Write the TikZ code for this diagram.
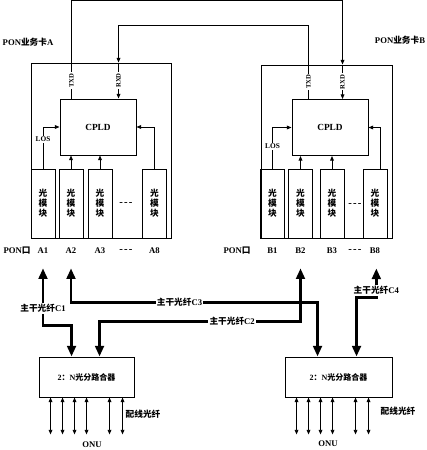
\documentclass[tikz,border=0pt]{standalone}
\usepackage{fontspec}
\setmainfont{Liberation Serif}
\newfontfamily\cjk{Noto Sans CJK SC}
\newcommand{\zh}[1]{{\cjk #1}}
\newcommand{\ddd}{{\fontsize{8}{8}\selectfont -\kern0.9pt-\kern0.9pt-}}
\usepackage{tikz}
\usetikzlibrary{arrows.meta, positioning, calc}
\tikzset{
  card/.style={rectangle, draw, line width=0.7pt},
  cpld/.style={
    rectangle, draw, line width=0.7pt,
    minimum width=57pt, minimum height=42pt,
    font=\fontsize{7}{8}\selectfont\bfseries
  },
  modl/.style={
    rectangle, draw, line width=0.7pt,
    minimum width=18pt, minimum height=51.75pt, align=center,
    font=\cjk\fontsize{6.5}{7.5}\selectfont\bfseries
  },
  splt/.style={
    rectangle, draw, line width=0.7pt, minimum height=30pt,
    font=\fontsize{6}{7}\selectfont\bfseries
  },
  lbl/.style={font=\fontsize{6.5}{7.5}\selectfont\bfseries},
  sigl/.style={rotate=90, fill=white, inner sep=0.8pt, font=\fontsize{5}{6}\selectfont\bfseries},
  losl/.style={fill=white, inner sep=0.8pt, font=\fontsize{5.5}{6}\selectfont\bfseries},
  fibl/.style={fill=white, inner sep=1pt, font=\fontsize{6.5}{7.5}\selectfont\bfseries},
  arr/.style={line width=0.7pt, -{Triangle[length=3.5pt,width=2.8pt]}},
  darr/.style={line width=0.7pt, {Triangle[length=3.5pt,width=2.8pt]}-{Triangle[length=3.5pt,width=2.8pt]}},
  fiber/.style={line width=2.2pt, {Triangle[length=8pt,width=6.5pt]}-{Triangle[length=8pt,width=6.5pt]}}
}
\begin{document}
\begin{tikzpicture}[x=0.75pt, y=-0.75pt, node distance=3.5pt]
  \useasboundingbox (0,0) rectangle (427,450);

  \node[card, minimum width=105pt, minimum height=131.25pt]  (cardA) at (101,150.5) {};
  \node[card, minimum width=98.25pt, minimum height=129.75pt] (cardB) at (326.5,151.5) {};
  \node[lbl] (nameA) at (28,42) {PON\zh{业务卡}A};
  \node[lbl] (nameB) at (400,40) {PON\zh{业务卡}B};

  \node[cpld] (cpldA) at (98,127)   {CPLD};
  \node[cpld] (cpldB) at (330,127.5) {CPLD};

  \foreach \n/\x in {1/43,2/71,3/100,8/154.5}
    \node[modl] (mA\n) at (\x,203.5) {光\\模\\块};
  \foreach \n/\x in {1/272.5,2/300.5,3/332,8/375}
    \node[modl] (mB\n) at (\x,203.5) {光\\模\\块};
  \node[lbl] (dotsA) at (126,204) {\ddd};
  \node[lbl] (dotsB) at (355,205) {\ddd};

  \foreach \n in {1,2,3,8} {
    \node[lbl, below=of mA\n] (lA\n) {A\n};
    \node[lbl, below=of mB\n] (lB\n) {B\n};
  }
  \node[lbl] (ponA) at (17,0 |- lA1) {PON\zh{口}};
  \node[lbl] (ponB) at (237,0 |- lB1) {PON\zh{口}};
  \node[lbl] (pdA) at (dotsA |- lA1) {\ddd};
  \node[lbl] (pdB) at (dotsB |- lB1) {\ddd};

  \node[splt, minimum width=71.25pt] (spA) at (86.5,377)  {2\zh{：}N\zh{光分路合器}};
  \node[splt, minimum width=80.25pt] (spB) at (338.5,377) {2\zh{：}N\zh{光分路合器}};
  \node[lbl] (wireA) at (143,414) {\zh{配线光纤}};
  \node[lbl] (wireB) at (398,411) {\zh{配线光纤}};
  \node[lbl] (onuA)  at (92,445)  {ONU};
  \node[lbl] (onuB)  at (328,444) {ONU};

  \coordinate (tA) at ($(cpldA.north west)+(12,0)$);
  \coordinate (rA) at ($(cpldA.north west)+(59,0)$);
  \coordinate (tB) at ($(cpldB.north west)+(17,0)$);
  \coordinate (rB) at ($(cpldB.north west)+(51,0)$);

  \draw[arr] (tA) -- node[sigl]{TXD} (cardA.north -| tA) -- ++(0,-62) -| (cardB.north -| rB);
  \draw[arr] (cardB.north -| rB) -- node[sigl]{RXD} (rB);
  \draw[arr] (tB) -- node[sigl]{TXD} (cardB.north -| tB) -- ++(0,-39) -| (cardA.north -| rA);
  \draw[arr] (cardA.north -| rA) -- node[sigl]{RXD} (rA);

  \draw[arr] (mA1.north) |- node[losl, pos=0.35]{LOS} (cpldA.west);
  \draw[arr] (mB1.north) |- node[losl, pos=0.27]{LOS} (cpldB.west);
  \draw[arr] (mA8.north) |- (cpldA.east);
  \draw[arr] ($(mB8.north)+(5,0)$) |- (cpldB.east);
  \foreach \n in {2,3} {
    \draw[arr] (mA\n.north) -- (mA\n.north |- cpldA.south);
    \draw[arr] (mB\n.north) -- (mB\n.north |- cpldB.south);
  }

  \coordinate (pA1) at ([yshift=-7.5pt]lA1.south);
  \coordinate (pA2) at ([yshift=-7.5pt]lA2.south);
  \coordinate (pB2) at ([yshift=-7.5pt]lB2.south);
  \coordinate (pB8) at ([yshift=-7.5pt,xshift=1pt]lB8.south);

  \draw[fiber] (pA1) -- node[fibl, pos=0.7]{\zh{主干光纤}C1} ++(0,57)
    -| ($(spA.north west)+(33,0)$);
  \draw[fiber] ($(spA.north west)+(61,0)$) -- ++(0,-35)
    -| node[fibl, pos=0.33]{\zh{主干光纤}C2} (pB2);
  \draw[fiber] (pA2) -- ++(0,34)
    -| node[fibl, pos=0.22]{\zh{主干光纤}C3} ($(spB.north west)+(33,0)$);
  \draw[fiber] ($(spB.north west)+(72,0)$) -- ++(0,-59)
    -| node[fibl, pos=0.62]{\zh{主干光纤}C4} (pB8);

  \foreach \dx in {12,24,36,48,71,84} {
    \draw[darr] ($(spA.south west)+(\dx,0)$) -- ++(0,37);
    \draw[darr] ($(spB.south west)+(\dx,0)$) -- ++(0,37);
  }

\end{tikzpicture}
\end{document}
